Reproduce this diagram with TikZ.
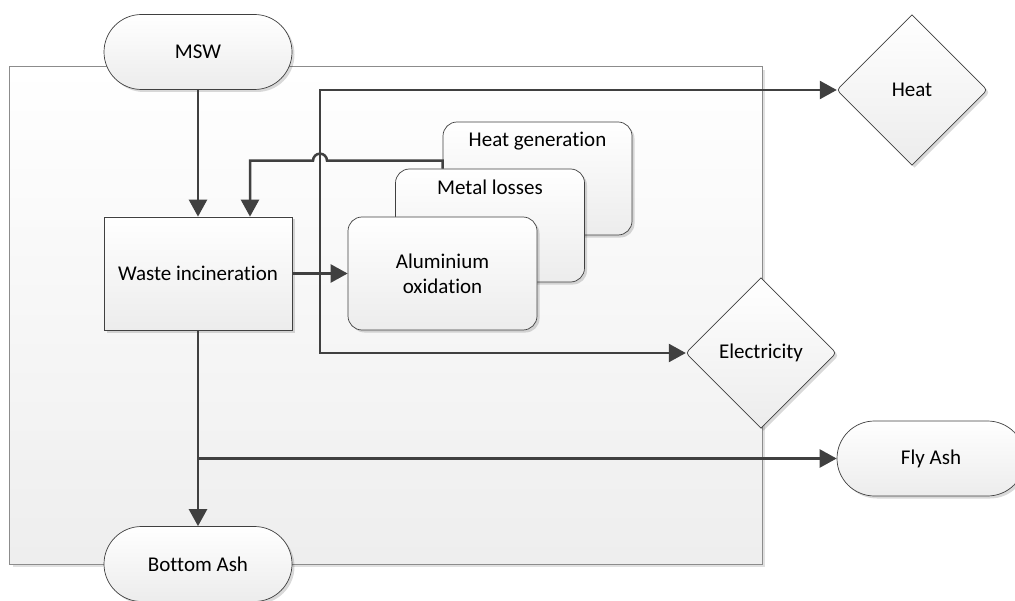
\documentclass[tikz,border=0pt]{standalone}
\usepackage{fontspec}
\setmainfont{Carlito}[Ligatures=CommonOff]
\usetikzlibrary{arrows.meta,shadows,calc,shapes.geometric}

\definecolor{linegray}{HTML}{404040}
\definecolor{framegray}{HTML}{8C8C8C}
\definecolor{fillbottom}{HTML}{ECECEC}

\begin{document}
\begin{tikzpicture}[x=1bp,y=-1bp,
  every node/.style={font=\fontsize{21bp}{25bp}\selectfont, text=black},
  shade box/.style={top color=white, bottom color=fillbottom, draw=linegray,
    line width=0.7bp,
    drop shadow={shadow xshift=2.5bp, shadow yshift=-2.5bp, fill=black, opacity=0.15}},
  system/.style={rectangle, top color=white, bottom color=fillbottom!90!white,
    draw=framegray, line width=1bp, inner sep=0,
    drop shadow={shadow xshift=3bp, shadow yshift=-3bp, fill=black, opacity=0.12}},
  terminal/.style={shade box, rectangle, rounded corners=37.5bp,
    minimum width=188bp, minimum height=75bp, inner sep=0},
  process/.style={shade box, rectangle, minimum width=188bp,
    minimum height=113bp, inner sep=0},
  card/.style={shade box, rectangle, rounded corners=14bp,
    minimum width=189bp, minimum height=113bp, inner sep=0},
  decision/.style={diamond, minimum width=150bp, minimum height=150bp, inner sep=0},
  flow/.style={draw=linegray, line width=2.5bp, -{Triangle[length=17bp,width=18bp]}},
]
\useasboundingbox (0,0) rectangle (1015,601);

% system boundary
\node[system, minimum width=752bp, minimum height=497bp] (sys) at (386,315.5) {};

% inputs, process and outputs
\node[terminal] (msw) at (198,52) {MSW};
\node[process] (wi) at (198,273.5) {Waste incineration};
\node[terminal] (bottom) at (198,564) {Bottom Ash};
\node[terminal] (fly) at (931,458.5) {Fly Ash};

% stacked effect cards, back to front
\node[card] (heatgen) at (537.5,178.5) {};
\node (heatgentext) at (537.5,141) {Heat generation};
\node[card] (metal) at (490,225.5) {};
\node (metaltext) at (490,187) {Metal losses};
\node[card, align=center] (alu) at (442.5,273.5) {Aluminium\\oxidation};

% energy products
\node[decision] (heat) at (912,90) {};
\path[shade box] ($(heat.east)+(-6,-6)$) -- (heat.north) -- ($(heat.west)+(6,-6)$)
  .. controls (heat.west) .. ($(heat.west)+(6,6)$) -- (heat.south)
  -- ($(heat.east)+(-6,6)$) .. controls (heat.east) .. ($(heat.east)+(-6,-6)$) -- cycle;
\node (heattext) at (heat.center) {Heat};

\node[decision] (elec) at (761,353) {};
\path[shade box] ($(elec.east)+(-6,-6)$) -- (elec.north) -- ($(elec.west)+(6,-6)$)
  .. controls (elec.west) .. ($(elec.west)+(6,6)$) -- (elec.south)
  -- ($(elec.east)+(-6,6)$) .. controls (elec.east) .. ($(elec.east)+(-6,-6)$) -- cycle;
\node (electext) at (elec.center) {Electricity};

% connectors
\coordinate (wiin) at ($(wi.north)+(52,0)$);
\coordinate (fb) at (heatgen.west |- metal.north);
\coordinate (fbturn) at ($(fb)+(0,-8)$);
\coordinate (tap) at (320,273.5);
\coordinate (split) at (wi.south |- fly.west);

\draw[flow] (msw) -- (wi);
\draw[flow] (wi) -- (alu);
\draw[flow] (fb) -- (fbturn) -- ($(tap |- fbturn)+(7,0)$)
  arc[start angle=0, end angle=-180, radius=7] -- (fbturn -| wiin) -- (wiin);
\draw[flow] (tap) |- (heat);
\draw[flow] (tap) |- (elec);
\draw[flow] (wi) -- (bottom);
\draw[flow] (split) -- (fly);
\end{tikzpicture}
\end{document}
